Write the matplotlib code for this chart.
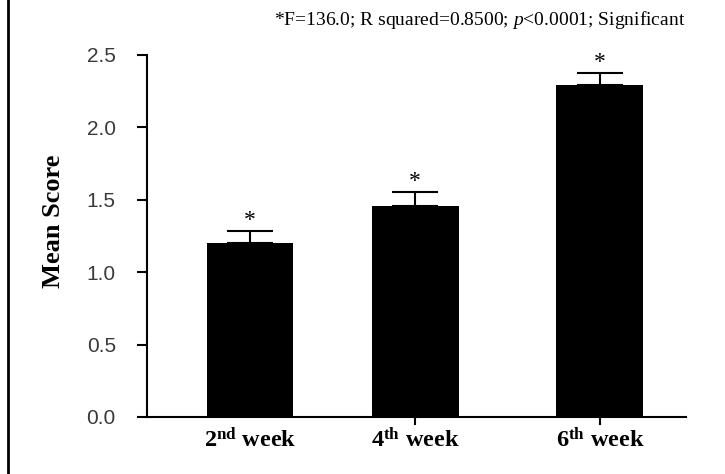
import matplotlib
matplotlib.use('Agg')
import matplotlib.pyplot as plt
from matplotlib.lines import Line2D

plt.rcParams['mathtext.fontset'] = 'custom'
plt.rcParams['mathtext.rm'] = 'Liberation Serif'
plt.rcParams['mathtext.it'] = 'Liberation Serif:italic'
plt.rcParams['mathtext.bf'] = 'Liberation Serif:bold'

# data
weeks = [r'2$^{\mathbf{nd}}$ week', r'4$^{\mathbf{th}}$ week', r'6$^{\mathbf{th}}$ week']
mean_score = [1.20, 1.46, 2.29]
sem = [0.085, 0.095, 0.085]
stars = ['*', '*', '*']
yticks = [0.0, 0.5, 1.0, 1.5, 2.0, 2.5]
stats_note = r'*F=136.0; R squared=0.8500; $p$<0.0001; Significant'

xpos = [1.0, 2.0, 3.12]

fig = plt.figure(figsize=(7.25, 4.74), dpi=100)
ax = fig.add_axes([0.2028, 0.1203, 0.7434, 0.7637])

ax.bar(xpos, mean_score, width=0.527, color='black', zorder=2)
ax.errorbar(xpos, mean_score, yerr=[[0] * 3, sem], fmt='none', ecolor='black',
            elinewidth=1.5, capsize=16.5, capthick=1.5, zorder=1)
for x, m, e, s in zip(xpos, mean_score, sem, stars):
    ax.annotate(s, (x, m + e), xytext=(0, 0), textcoords='offset points',
                ha='center', va='bottom', fontsize=17, family='Liberation Serif')

ax.set_xlim(0.376, 3.642)
ax.set_ylim(0, 2.5)
ax.set_yticks(yticks)
ax.set_yticklabels([f'{t:.1f}' for t in yticks], family='Liberation Sans',
                   fontsize=15, color='#3a3a3a')
ax.set_xticks(xpos)
ax.set_xticklabels(weeks, family='Liberation Serif', fontweight='bold', fontsize=17.5)
ax.get_xaxis().get_major_ticks()[0].tick1line.set_visible(False)

for side in ['top', 'right']:
    ax.spines[side].set_visible(False)
for side in ['left', 'bottom']:
    ax.spines[side].set_linewidth(1.5)
ax.tick_params(axis='y', length=7.5, width=1.5, pad=15)
ax.tick_params(axis='x', length=6, width=1.5, pad=2)

ax.set_ylabel('Mean Score', family='Liberation Serif', fontweight='bold', fontsize=19)
ax.yaxis.set_label_coords(-0.152, 0.541)

fig.text(0.946, 0.957, stats_note, ha='right', va='center',
         family='Liberation Serif', fontsize=14)

# thin frame line on the left edge of the image
fig.add_artist(Line2D([0.011, 0.011], [0, 1], transform=fig.transFigure,
                      color='black', lw=2))

fig.savefig('out.png', dpi=100)
